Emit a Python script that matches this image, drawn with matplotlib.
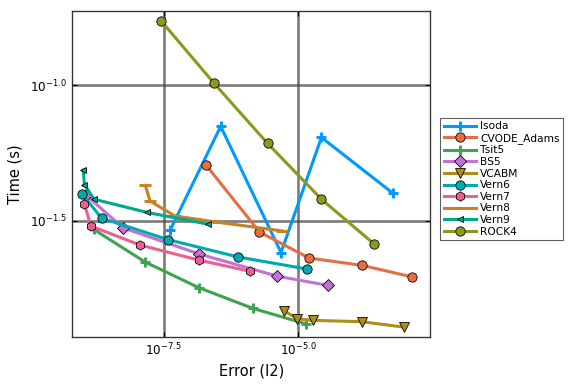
import numpy as np
import matplotlib
matplotlib.use('Agg')
import matplotlib.pyplot as plt

# values, as log10(error) and log10(time)
names = ['Isoda', 'CVODE_Adams', 'Tsit5', 'BS5', 'VCABM',
         'Vern6', 'Vern7', 'Vern8', 'Vern9', 'ROCK4']

isoda_err = [-7.38, -6.44, -5.32, -4.57, -3.25]
isoda_t = [-1.536, -1.152, -1.618, -1.193, -1.398]

cvode_err = [-6.72, -5.72, -4.80, -3.82, -2.88]
cvode_t = [-1.293, -1.542, -1.638, -1.665, -1.708]

tsit5_err = [-8.80, -7.84, -6.84, -5.84, -4.86]
tsit5_t = [-1.532, -1.653, -1.748, -1.824, -1.881]

bs5_err = [-8.94, -8.25, -6.84, -5.39, -4.45]
bs5_t = [-1.406, -1.527, -1.623, -1.705, -1.739]

vcabm_err = [-5.26, -5.02, -4.73, -3.82, -3.04]
vcabm_t = [-1.833, -1.862, -1.868, -1.873, -1.893]

vern6_err = [-9.02, -8.65, -7.42, -6.12, -4.83]
vern6_t = [-1.400, -1.491, -1.570, -1.634, -1.679]

vern7_err = [-8.97, -8.85, -7.94, -6.84, -5.89]
vern7_t = [-1.437, -1.520, -1.590, -1.646, -1.687]

vern8_err = [-7.84, -7.75, -7.29, -6.49, -5.30]
vern8_t = [-1.370, -1.428, -1.483, -1.506, -1.538]

vern9_err = [-8.99, -8.97, -8.79, -7.80, -6.68]
vern9_t = [-1.314, -1.367, -1.421, -1.470, -1.513]

rock4_err = [-7.55, -6.56, -5.57, -4.57, -3.60]
rock4_t = [-0.762, -0.994, -1.215, -1.421, -1.585]

errs = [isoda_err, cvode_err, tsit5_err, bs5_err, vcabm_err,
        vern6_err, vern7_err, vern8_err, vern9_err, rock4_err]
times = [isoda_t, cvode_t, tsit5_t, bs5_t, vcabm_t,
         vern6_t, vern7_t, vern8_t, vern9_t, rock4_t]

colors = ['#009AFA', '#E36F47', '#3EA44E', '#C371D2', '#AC8E18',
          '#00AAAE', '#ED5E93', '#C68225', '#00A98D', '#8E971E']
markers = ['+', 'o', '+', 'D', 'v', 'o', 'h', '_', '<', 'o']
msizes = [8, 7, 8, 6, 7, 7, 7, 9, 5, 7]

fig = plt.figure(figsize=(6, 4), dpi=96)
ax = fig.add_axes([0.125, 0.122, 0.622, 0.849])

for i in range(len(names)):
    x = 10.0 ** np.array(errs[i])
    y = 10.0 ** np.array(times[i])
    mk = markers[i]
    edge = colors[i] if mk in ('+', '_') else 'black'
    ax.plot(x, y, color=colors[i], lw=2.3, marker=mk, ms=msizes[i],
            mec=edge, mew=0.6 if edge == 'black' else 2.2, label=names[i])

ax.set_xscale('log')
ax.set_yscale('log')
ax.set_xlim(10 ** -9.2, 10 ** -2.55)
ax.set_ylim(10 ** -1.93, 10 ** -0.727)

ax.set_xticks([10 ** -7.5, 10 ** -5.0])
ax.set_xticklabels([r'$10^{-7.5}$', r'$10^{-5.0}$'])
ax.set_yticks([10 ** -1.5, 10 ** -1.0])
ax.set_yticklabels([r'$10^{-1.5}$', r'$10^{-1.0}$'])
ax.minorticks_off()
ax.tick_params(direction='in', labelsize=9, length=4, top=True, right=True,
               labeltop=False, labelright=False)

ax.grid(True, color='#444444', lw=2.0, alpha=0.7)
ax.set_axisbelow(True)
for s in ax.spines.values():
    s.set_linewidth(1.0)
    s.set_color('#333333')

ax.set_xlabel('Error (l2)', fontsize=11)
ax.set_ylabel('Time (s)', fontsize=11, labelpad=6)

leg = ax.legend(loc='center left', bbox_to_anchor=(1.012, 0.485), fontsize=8,
                frameon=True, fancybox=False, edgecolor='#333333',
                handlelength=3.0, labelspacing=0.15, borderpad=0.35,
                handletextpad=0.4)
leg.get_frame().set_linewidth(0.8)

fig.savefig('out.png', dpi=96)
